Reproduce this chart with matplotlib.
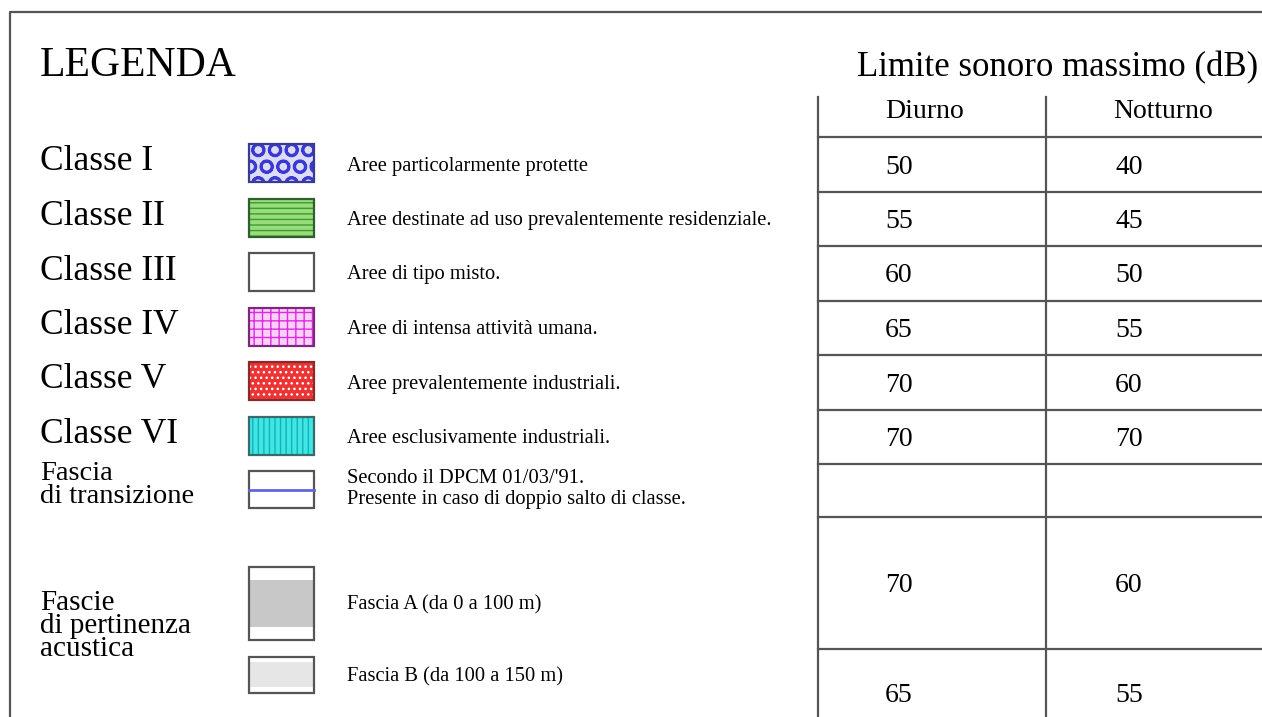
import matplotlib.pyplot as plt
from matplotlib.patches import Rectangle

plt.rcParams.update({
    'font.family': 'Liberation Serif',
    'hatch.linewidth': 1.0,
})

# data
classi = ['Classe I', 'Classe II', 'Classe III', 'Classe IV', 'Classe V', 'Classe VI']
descrizioni = [
    'Aree particolarmente protette',
    'Aree destinate ad uso prevalentemente residenziale.',
    'Aree di tipo misto.',
    'Aree di intensa attività umana.',
    'Aree prevalentemente industriali.',
    'Aree esclusivamente industriali.',
]
diurno = [50, 55, 60, 65, 70, 70]
notturno = [40, 45, 50, 55, 60, 70]

transizione = 'Fascia\ndi transizione'
transizione_desc = 'Secondo il DPCM 01/03/\'91.\nPresente in caso di doppio salto di classe.'

pertinenza = 'Fascie\ndi pertinenza\nacustica'
fasce = ['Fascia A (da 0 a 100 m)', 'Fascia B (da 100 a 150 m)']
fasce_diurno = [70, 65]
fasce_notturno = [60, 55]

# styles
face = ['#dcdcfa', '#98dc7c', 'white', '#f8d0f8', '#ec3434', '#3ee6e6']
hatchc = ['#3a3ad0', '#3f9a2f', 'white', '#e02ae0', 'white', '#18b0b0']
hatches = ['O', '---', None, '++', '...', '|||']
hlw = [2.0, 1.0, 1.0, 1.0, 1.0, 1.0]
border = ['#3a3a90', '#2f5f2f', '#555555', '#7a2a7a', '#8a2a2a', '#3a6a6a']

fig = plt.figure(figsize=(12.62, 7.17), dpi=100)
ax = fig.add_axes([0, 0, 1, 1])
ax.set_xlim(0, 1262)
ax.set_ylim(717, 0)
ax.axis('off')

lc = '#555555'
# outer frame
ax.plot([10, 10, 1262], [717, 12, 12], color=lc, lw=1.6)

ax.text(40, 66, 'LEGENDA', fontsize=30, va='center', ha='left')
ax.text(1258, 68, 'Limite sonoro massimo (dB)', fontsize=25, va='center', ha='right')

# table grid
x_left, x_mid, x_right = 818, 1046, 1262
ax.plot([x_left, x_left], [97, 717], color=lc, lw=1.6)
ax.plot([x_mid, x_mid], [97, 717], color=lc, lw=1.6)
row_lines = [137, 191.5, 246, 300.5, 355, 409.5, 464, 517, 649]
for y in row_lines:
    ax.plot([x_left, x_right], [y, y], color=lc, lw=1.6)

ax.text(885, 111, 'Diurno', fontsize=20, va='center')
ax.text(1113, 111, 'Notturno', fontsize=20, va='center')

sx, sw = 249, 65
for i, (c, d) in enumerate(zip(classi, descrizioni)):
    y0 = row_lines[i]
    ax.text(40, y0 + 25, c, fontsize=25.5, va='center')
    ax.text(347, y0 + 29, d, fontsize=14.8, va='center')
    ax.text(885, y0 + 30, str(diurno[i]), fontsize=20, va='center')
    ax.text(1115, y0 + 30, str(notturno[i]), fontsize=20, va='center')
    with plt.rc_context({'hatch.linewidth': hlw[i]}):
        ax.add_patch(Rectangle((sx, y0 + 7), sw, 38, facecolor=face[i],
                               edgecolor=hatchc[i], hatch=hatches[i], lw=0))
    ax.add_patch(Rectangle((sx, y0 + 7), sw, 38, fill=False,
                           edgecolor=border[i], lw=1.6))

# fascia di transizione
ax.text(40, 485, transizione, fontsize=20.5, va='center', linespacing=0.85)
ax.text(347, 489, transizione_desc, fontsize=14.8, va='center', linespacing=1.15)
ax.add_patch(Rectangle((sx, 471), sw, 37, facecolor='white', edgecolor='#555555', lw=1.6))
ax.plot([sx, sx + sw], [490, 490], color='#6464e0', lw=2)

# fasce di pertinenza
ax.text(40, 626, pertinenza, fontsize=21, va='center', linespacing=0.85)
ax.add_patch(Rectangle((sx, 580), sw, 47, facecolor='#c8c8c8', lw=0))
ax.add_patch(Rectangle((sx, 567), sw, 73, fill=False, edgecolor='#555555', lw=1.6))
ax.add_patch(Rectangle((sx, 662), sw, 25, facecolor='#e6e6e6', lw=0))
ax.add_patch(Rectangle((sx, 657), sw, 36, fill=False, edgecolor='#555555', lw=1.6))
ax.text(347, 605, fasce[0], fontsize=14.8, va='center')
ax.text(347, 677, fasce[1], fontsize=14.8, va='center')

ax.text(885, 585, str(fasce_diurno[0]), fontsize=20, va='center')
ax.text(1115, 585, str(fasce_notturno[0]), fontsize=20, va='center')
ax.text(885, 695, str(fasce_diurno[1]), fontsize=20, va='center')
ax.text(1115, 695, str(fasce_notturno[1]), fontsize=20, va='center')

fig.savefig('out.png', dpi=100, facecolor='white')
